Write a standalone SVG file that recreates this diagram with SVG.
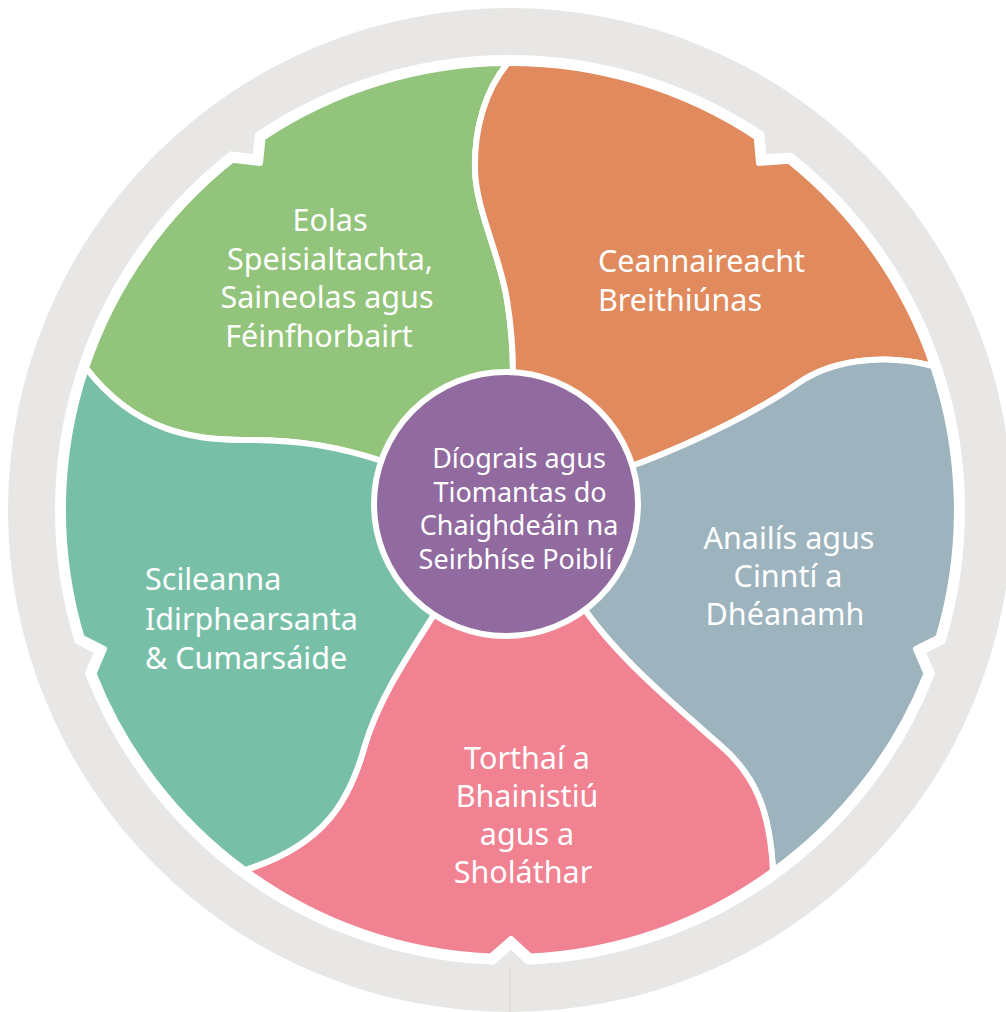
<svg xmlns="http://www.w3.org/2000/svg" width="1006" height="1012" viewBox="0 0 1006 1012">
<style>
.petal{stroke:#ffffff;stroke-width:6;stroke-linejoin:round}
.lbl{font-family:"Noto Sans","Open Sans","Liberation Sans",sans-serif;font-size:30.5px;fill:#ffffff}
.mid{text-anchor:middle}
.ctr{font-family:"Noto Sans","Open Sans","Liberation Sans",sans-serif;font-size:27px;fill:#ffffff;text-anchor:middle}
</style>
<rect x="0" y="0" width="1006" height="1012" fill="#ffffff"/>
<g id="ring">
<circle cx="510" cy="510" r="502" fill="#e8e7e5"/>
<line x1="510" y1="967" x2="510" y2="1012" stroke="#e3d2d6" stroke-width="1"/>
<path d="M 508,63 A 447 447 0 0 1 756.7,137.2 L 759,163 L 788.9,160.7 A 447 447 0 0 1 938.4,637.7 L 916,649 L 926.5,673.5 A 447 447 0 0 1 530,956.5 L 511,939 L 491,956.6 A 447 447 0 0 1 93.5,673.5 L 104,649 L 81.6,637.7 A 447 447 0 0 1 232.4,159.7 L 260,163 L 262.6,137.7 A 447 447 0 0 1 508,63 Z" fill="#ffffff" stroke="#ffffff" stroke-width="16"/>
</g>
<g id="petal-green">
<path class="petal" fill="#93c47b" d="M 507,505 L 385,462 C 340,447 300,440 250,440 C 195,441 135,432 86,368 A 447 447 0 0 1 232.4,159.7 L 260,163 L 262.6,137.7 A 447 447 0 0 1 508,63 C 485,90 474,130 475,170 C 476,210 500,255 507,300 C 511,325 513,350 513,372 Z"/>
<text class="lbl mid" x="330" y="231">Eolas</text>
<text class="lbl mid" x="330" y="269.5">Speisialtachta,</text>
<text class="lbl mid" x="327" y="308">Saineolas agus</text>
<text class="lbl mid" x="319" y="346.5">Féinfhorbairt</text>
</g>
<g id="petal-orange">
<path class="petal" fill="#e08a5e" d="M 507,505 L 513,372 C 513,350 511,325 507,300 C 500,255 476,210 475,170 C 474,130 485,90 508,63 A 447 447 0 0 1 756.7,137.2 L 759,163 L 788.9,160.7 A 447 447 0 0 1 933,366 C 880,352 830,362 800,382 C 760,410 700,440 640,463 Z"/>
<text class="lbl" x="598" y="271.5">Ceannaireacht</text>
<text class="lbl" x="598" y="311">Breithiúnas</text>
</g>
<g id="petal-blue">
<path class="petal" fill="#9db3be" d="M 507,505 L 640,463 C 700,440 760,410 800,382 C 830,362 880,352 933,366 A 447 447 0 0 1 938.4,637.7 L 916,649 L 926.5,673.5 A 447 447 0 0 1 773,871 C 770,810 755,775 720,745 C 680,710 620,660 585,610 Z"/>
<text class="lbl mid" x="789" y="549">Anailís agus</text>
<text class="lbl mid" x="788" y="587">Cinntí a</text>
<text class="lbl mid" x="785" y="625">Dhéanamh</text>
</g>
<g id="petal-pink">
<path class="petal" fill="#f08292" d="M 507,505 L 585,610 C 620,660 680,710 720,745 C 755,775 770,810 773,871 A 447 447 0 0 1 530,956.5 L 511,939 L 491,956.6 A 447 447 0 0 1 245,870 C 325,845 350,800 365,745 C 380,695 412,650 440,605 Z"/>
<text class="lbl mid" x="527" y="769">Torthaí a</text>
<text class="lbl mid" x="527" y="807">Bhainistiú</text>
<text class="lbl mid" x="527" y="845">agus a</text>
<text class="lbl mid" x="523" y="883">Sholáthar</text>
</g>
<g id="petal-teal">
<path class="petal" fill="#78bfa8" d="M 507,505 L 440,605 C 412,650 380,695 365,745 C 350,800 325,845 245,870 A 447 447 0 0 1 93.5,673.5 L 104,649 L 81.6,637.7 A 447 447 0 0 1 86,368 C 135,432 195,441 250,440 C 300,440 340,447 385,462 Z"/>
<text class="lbl" x="145" y="590">Scileanna</text>
<text class="lbl" x="145" y="629.5">Idirphearsanta</text>
<text class="lbl" x="145" y="669">&amp; Cumarsáide</text>
</g>
<g id="centre">
<circle cx="506" cy="504" r="132" fill="#916aa0" stroke="#ffffff" stroke-width="6"/>
<text class="ctr" x="519" y="468">Díograis agus</text>
<text class="ctr" x="520" y="501.7">Tiomantas do</text>
<text class="ctr" x="519" y="535.4">Chaighdeáin na</text>
<text class="ctr" x="515.5" y="569.1">Seirbhíse Poiblí</text>
</g>
<g id="connectors"></g>
</svg>
